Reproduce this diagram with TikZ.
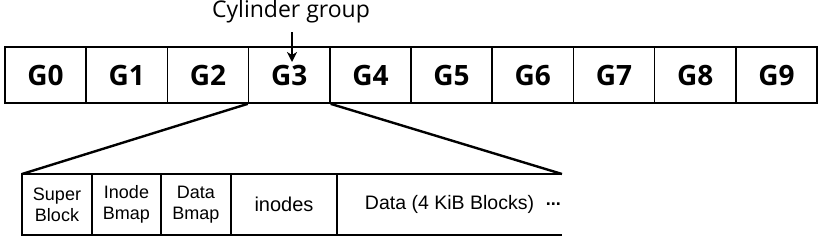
\documentclass[tikz,border=0pt]{standalone}
\usepackage{fontspec}
\setmainfont{Liberation Sans}
\newfontfamily\grpfont{Open Sans}
\usetikzlibrary{arrows.meta,positioning}
\tikzset{
  grp/.style={draw,line width=1.7pt,minimum width=81.2pt,minimum height=56pt,inner sep=0pt,
    font=\grpfont\bfseries\fontsize{28}{30}\selectfont},
  blk/.style={draw,line width=1.7pt,minimum height=61pt,inner sep=0pt,outer sep=0pt,align=center,
    font=\fontsize{18}{21}\selectfont},
  fan/.style={line width=2.4pt}
}
\begin{document}
\begin{tikzpicture}[x=1pt,y=-1pt]
\useasboundingbox (0,0) rectangle (820,250);
% row of cylinder groups
\foreach \i in {0,...,9}
  \node[grp] (g\i) at ({5+81.2*(\i+.5)},75) {G\i};
\node[font=\grpfont\fontsize{23}{25}\selectfont] (title) at (291,12) {Cylinder group};
\coordinate (tip) at (292,62); \coordinate (tail) at (292,32);
\draw[line width=1.7pt,-{Stealth[length=10pt,width=10pt,inset=3pt]}] (tail)--(tip);
% one group opened up
\node[blk,minimum width=70pt] (sb) at (57,204.5) {Super\\Block};
\node[blk,minimum width=69pt,right=0pt of sb] (ib) {Inode\\Bmap};
\node[blk,minimum width=70pt,right=0pt of ib] (db) {Data\\Bmap};
\node[blk,minimum width=106pt,right=0pt of db,font=\fontsize{20}{22}\selectfont] (ino) {inodes};
\node[blk,draw=none,minimum width=225pt,right=0pt of ino,font=\fontsize{19.5}{22}\selectfont] (data) {Data (4 KiB Blocks)};
\node[anchor=east,inner sep=1pt,font=\bfseries\fontsize{18}{20}\selectfont] (dots) at (data.east) {...};
\draw[line width=1.7pt] (data.north west)--(data.north east) (data.south west)--(data.south east);
\draw[fan] (g3.south west)--(sb.north west);
\draw[fan] (g3.south east)--(data.north east);
\end{tikzpicture}
\end{document}
